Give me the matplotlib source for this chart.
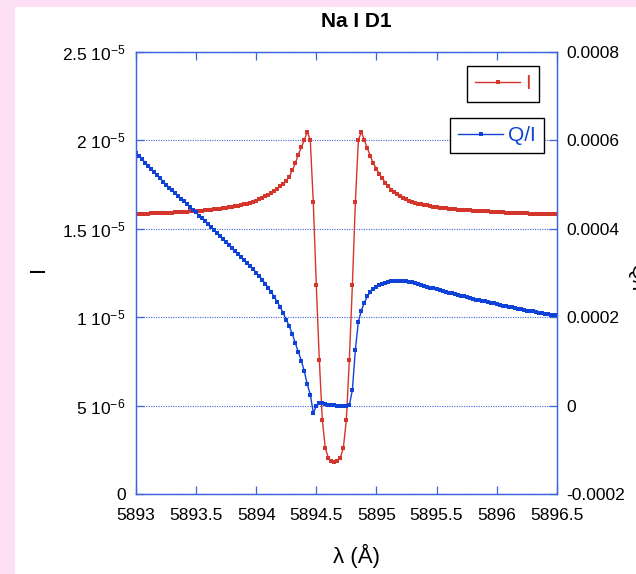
import numpy as np
import matplotlib
matplotlib.use("Agg")
import matplotlib.pyplot as plt
from matplotlib.patches import Rectangle

plt.rcParams['font.family'] = ['Liberation Sans', 'DejaVu Sans']
plt.rcParams['mathtext.fontset'] = 'custom'
plt.rcParams['mathtext.rm'] = 'Liberation Sans'
plt.rcParams['mathtext.it'] = 'Liberation Sans:italic'
plt.rcParams['mathtext.bf'] = 'Liberation Sans:bold'

# ---------------- data ----------------
# wavelength sampling grid (Angstrom), 141 evenly spaced samples
wavelength = np.linspace(5893.0, 5896.5, 141)

# Stokes I, in units of 1e-6
I_e6 = [
    15.84, 15.85, 15.85, 15.86, 15.86, 15.87, 15.87, 15.88, 15.88, 15.89, 15.90,
    15.91, 15.92, 15.93, 15.94, 15.95, 15.96, 15.97, 15.98, 15.99, 16.00,
    16.02, 16.03, 16.05, 16.06, 16.08, 16.10, 16.12, 16.14, 16.16, 16.18,
    16.21, 16.24, 16.27, 16.30, 16.34, 16.38, 16.42, 16.47, 16.53, 16.60,
    16.67, 16.75, 16.84, 16.94, 17.04, 17.15, 17.27, 17.40, 17.55, 17.72,
    17.95, 18.30, 18.70, 19.20, 19.60, 20.00, 20.50,
    20.00, 16.50, 11.80, 7.60, 4.20, 2.60, 2.05, 1.88, 1.82, 1.88, 2.05, 2.60,
    4.20, 7.60, 11.80, 16.50, 20.00,
    20.50,
    20.00, 19.55, 19.10, 18.70, 18.40, 18.10, 17.85, 17.60, 17.40, 17.20,
    17.07, 16.95, 16.85, 16.75, 16.67, 16.60, 16.53, 16.47, 16.43, 16.39,
    16.35, 16.32, 16.29, 16.26, 16.23, 16.20, 16.18, 16.16, 16.14, 16.12,
    16.10, 16.09, 16.08, 16.06, 16.05, 16.04, 16.03, 16.02, 16.01, 16.00,
    15.99, 15.98, 15.97, 15.96, 15.95, 15.94, 15.93, 15.92, 15.91, 15.90,
    15.89, 15.88, 15.88, 15.87, 15.87, 15.86, 15.86, 15.86, 15.85, 15.85,
    15.85, 15.85, 15.84, 15.84, 15.84,
]

# Q/I, in units of 1e-4
QI_e4 = [
    5.72, 5.65, 5.58, 5.50, 5.43, 5.36, 5.29, 5.22, 5.15, 5.07, 5.00,
    4.93, 4.87, 4.81, 4.74, 4.68, 4.62, 4.56, 4.49, 4.43, 4.37,
    4.30, 4.24, 4.17, 4.11, 4.04, 3.97, 3.91, 3.84, 3.77, 3.70,
    3.63, 3.56, 3.50, 3.43, 3.36, 3.29, 3.22, 3.16, 3.09, 3.01,
    2.93, 2.85, 2.76, 2.67, 2.57, 2.46, 2.35, 2.23, 2.09, 1.94,
    1.80, 1.62, 1.42, 1.22, 1.02, 0.78, 0.48, 0.25, -0.16, -0.02,
    0.07, 0.05, 0.03, 0.02, 0.01, 0.01, 0.00, -0.01, -0.02, -0.02,
    0.01, 0.35, 1.26, 1.90, 2.15, 2.33, 2.47, 2.57, 2.64, 2.69,
    2.73, 2.76, 2.78, 2.80, 2.81, 2.82, 2.83, 2.83, 2.82, 2.81,
    2.80, 2.79, 2.77, 2.75, 2.73, 2.71, 2.69, 2.67, 2.65, 2.63,
    2.61, 2.59, 2.57, 2.55, 2.54, 2.52, 2.50, 2.49, 2.47, 2.45,
    2.44, 2.42, 2.40, 2.39, 2.37, 2.36, 2.34, 2.32, 2.31, 2.29,
    2.28, 2.26, 2.25, 2.23, 2.22, 2.21, 2.19, 2.18, 2.17, 2.15,
    2.14, 2.13, 2.11, 2.10, 2.09, 2.08, 2.07, 2.06, 2.05, 2.04,
]

x_ticks = [5893, 5893.5, 5894, 5894.5, 5895, 5895.5, 5896, 5896.5]
x_tick_labels = ['5893', '5893.5', '5894', '5894.5', '5895', '5895.5', '5896', '5896.5']
left_ticks = [0, 5e-6, 1e-5, 1.5e-5, 2e-5, 2.5e-5]
left_tick_labels = ['0', r'$\mathregular{5\ 10^{-6}}$', r'$\mathregular{1\ 10^{-5}}$',
                    r'$\mathregular{1.5\ 10^{-5}}$', r'$\mathregular{2\ 10^{-5}}$',
                    r'$\mathregular{2.5\ 10^{-5}}$']
right_ticks = [-0.0002, 0, 0.0002, 0.0004, 0.0006, 0.0008]
right_tick_labels = ['-0.0002', '0', '0.0002', '0.0004', '0.0006', '0.0008']

# ---------------- style ----------------
PINK = '#fde0f5'
RED = '#d5362b'
BLUE = '#0f43d8'
AXBLUE = '#3d66dd'

W, H = 636, 574
fig = plt.figure(figsize=(W / 100, H / 100), dpi=100, facecolor=PINK)
fig.patches.append(Rectangle((15 / W, 0), 1 - 15 / W, 567 / H, transform=fig.transFigure,
                             facecolor='white', edgecolor='none', zorder=-10))

ax = fig.add_axes([136 / W, 80 / H, 420.7 / W, 442 / H])
ax.set_facecolor('white')
lineI, = ax.plot(wavelength, np.array(I_e6) * 1e-6, color=RED, lw=1.0,
                 marker='s', ms=3.0, mew=0, label='I')
ax.set_xlim(5893, 5896.5)
ax.set_ylim(0, 2.5e-5)

ax2 = ax.twinx()
lineQ, = ax2.plot(wavelength, np.array(QI_e4) * 1e-4, color=BLUE, lw=1.0,
                  marker='s', ms=3.0, mew=0, label='Q/I')
ax2.set_ylim(-0.0002, 0.0008)

ax.set_xticks(x_ticks, labels=x_tick_labels)
ax.set_yticks(left_ticks, labels=left_tick_labels)
ax2.set_yticks(right_ticks, labels=right_tick_labels)

ax.yaxis.grid(True, color=AXBLUE, ls=(0, (1, 1.2)), lw=0.8)
ax.xaxis.grid(False)
ax.set_axisbelow(True)

ax.tick_params(axis='x', direction='in', top=True, bottom=True, length=5.5, width=0.9,
               color=AXBLUE, labelsize=12.5, pad=10)
ax.tick_params(axis='y', direction='in', left=True, right=False, length=5.5, width=0.9,
               color=AXBLUE, labelsize=12.5, pad=7.5)
ax2.tick_params(axis='y', direction='in', right=True, left=False, length=5.5, width=0.9,
                color=AXBLUE, labelsize=12.5, pad=7)
for a in (ax, ax2):
    for s in a.spines.values():
        s.set_color(AXBLUE)
        s.set_linewidth(0.9)

common = dict(loc='upper right', bbox_transform=fig.transFigure, fancybox=False,
              edgecolor='black', framealpha=1, borderaxespad=0, borderpad=0.4,
              handlelength=2.15, handletextpad=0.25, numpoints=1, fontsize=15,
              labelcolor='linecolor')
leg1 = ax2.legend([lineI], ['I'], bbox_to_anchor=(539.3 / W, 1 - 66 / H), **common)
leg1.get_frame().set_linewidth(1.0)
ax2.add_artist(leg1)
leg2 = ax2.legend([lineQ], ['Q/I'], bbox_to_anchor=(544.3 / W, 1 - 117.7 / H), **common)
leg2.get_frame().set_linewidth(1.0)

fig.text(356.7 / W, 1 - 21.5 / H, 'Na I D1', ha='center', va='center',
         fontsize=15, fontweight='bold')
fig.text(356.7 / W, 1 - 556.3 / H, 'λ (Å)', ha='center', va='center', fontsize=16)
fig.text(39 / W, 1 - 268.5 / H, 'I', ha='center', va='center', rotation=90, fontsize=16)
fig.text(636 / W, 1 - 278 / H, 'Q/I', ha='center', va='center', rotation=270, fontsize=15)

fig.savefig('out.png', dpi=100, facecolor=fig.get_facecolor())
